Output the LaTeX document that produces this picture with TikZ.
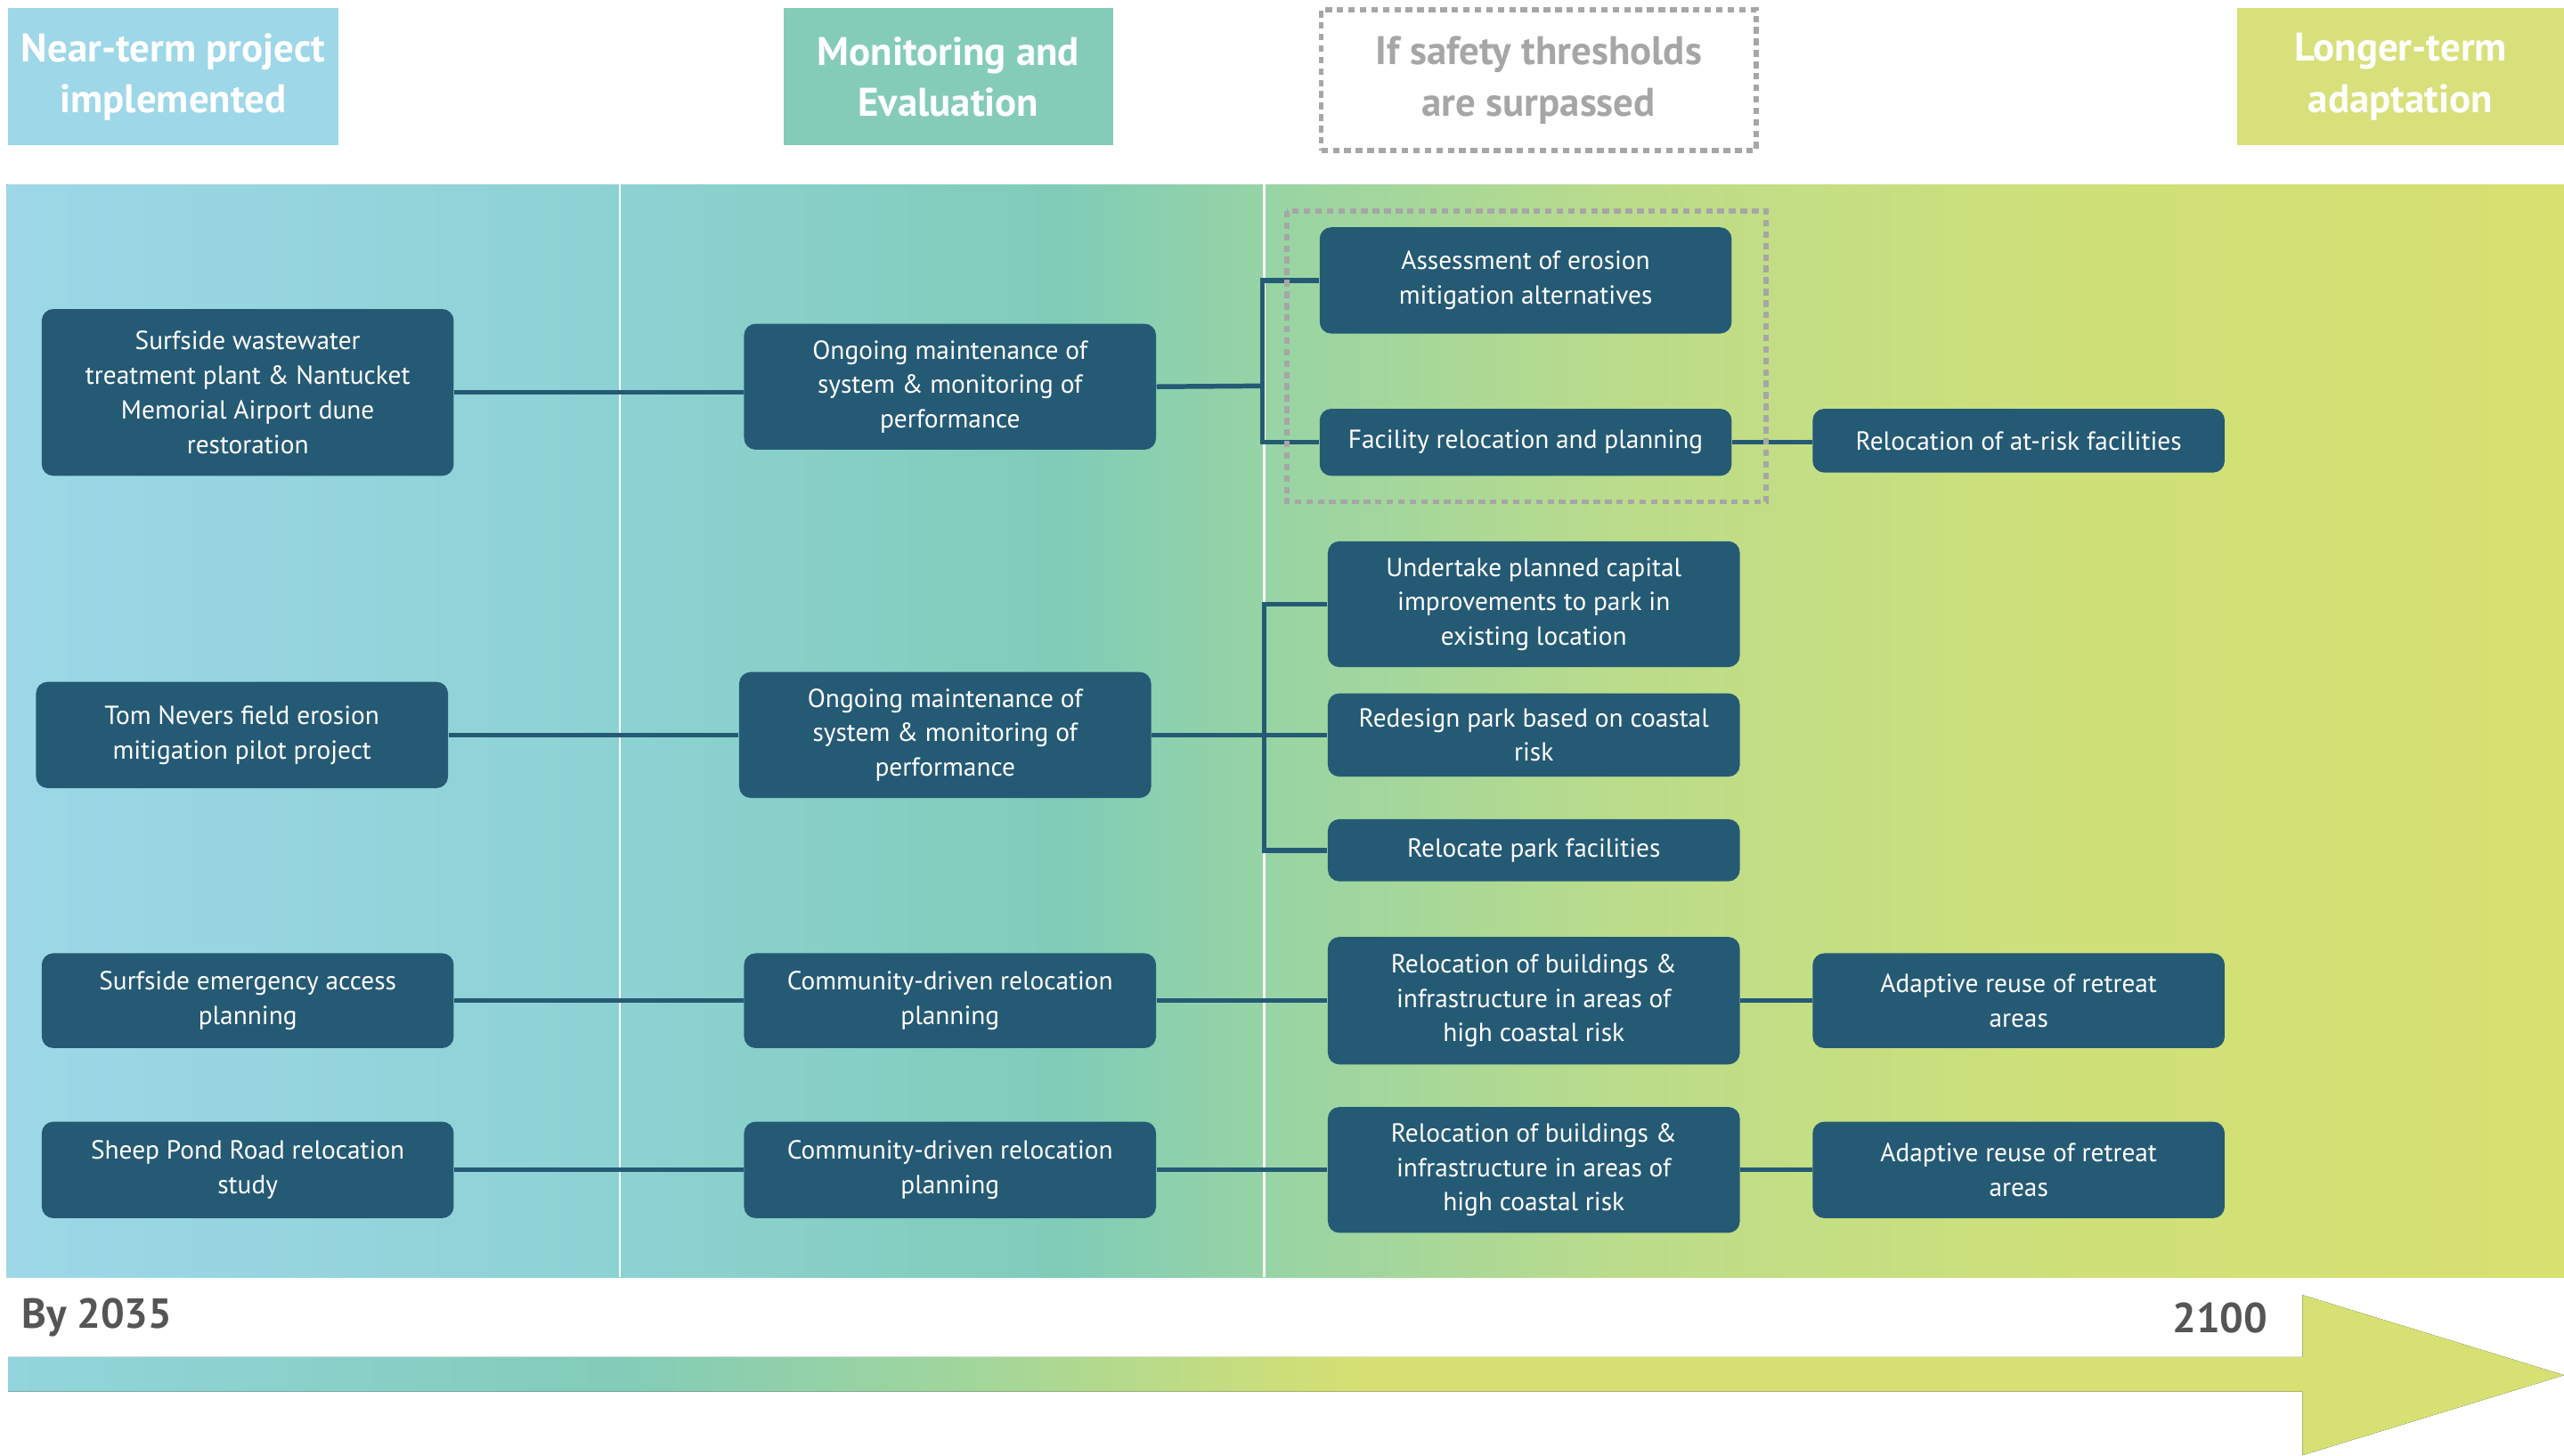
\documentclass[tikz,border=0pt]{standalone}
\usepackage{fontspec}
\setmainfont{PT Sans}
\usetikzlibrary{positioning}

\definecolor{boxblue}{HTML}{255A75}
\definecolor{nearblue}{HTML}{9DD7E8}
\definecolor{montgreen}{HTML}{84CCB8}
\definecolor{longyellow}{HTML}{D7E07A}
\definecolor{dashgray}{HTML}{A6A6A6}
\definecolor{yeargray}{HTML}{555555}

\pgfdeclarehorizontalshading{bandshade}{100bp}{%
  color(0bp)=(nearblue); color(25bp)=(nearblue);
  color(37bp)=(rgb,255:red,141;green,210;blue,211);
  color(45.6bp)=(rgb,255:red,128;green,204;blue,184);
  color(49.8bp)=(rgb,255:red,152;green,212;blue,164);
  color(56.8bp)=(rgb,255:red,188;green,220;blue,138);
  color(64.9bp)=(rgb,255:red,206;green,224;blue,122);
  color(75bp)=(rgb,255:red,216;green,224;blue,112);
  color(100bp)=(rgb,255:red,216;green,224;blue,112)}
\pgfdeclarehorizontalshading{arrowshade}{100bp}{%
  color(0bp)=(rgb,255:red,146;green,213;blue,220);
  color(25bp)=(rgb,255:red,146;green,213;blue,220);
  color(37bp)=(rgb,255:red,130;green,204;blue,184);
  color(44bp)=(rgb,255:red,162;green,214;blue,154);
  color(51.4bp)=(rgb,255:red,214;green,224;blue,114);
  color(75bp)=(rgb,255:red,215;green,224;blue,115);
  color(100bp)=(rgb,255:red,215;green,224;blue,115)}

\begin{document}
\begin{tikzpicture}[
  x=0.02cm, y=-0.02cm,
  font=\fontsize{9.1}{12}\selectfont,
  task/.style={fill=boxblue, rounded corners=4pt, text=white,
               align=center, minimum width=5.04cm, inner sep=2pt},
  phase/.style={text=white, align=center, minimum width=4.04cm,
                minimum height=1.68cm,
                font=\bfseries\fontsize{13.9}{17.8}\selectfont},
  threshold/.style={draw=dashgray, line width=1.7pt,
                    dash pattern=on 2.3pt off 1.7pt},
  link/.style={draw=boxblue, line width=1.7pt},
  divider/.style={draw=white, line width=0.8pt},
  year/.style={text=yeargray, font=\bfseries\fontsize{14.6}{16}\selectfont}
]
\useasboundingbox (0,0) rectangle (1568,890);

%% Phase headers
\node[phase, fill=nearblue]   (hnear) at (106,47)  {Near-term project\\implemented};
\node[phase, fill=montgreen]  (hmon)  at (580,47)  {Monitoring and\\Evaluation};
\node[phase, threshold, text=dashgray, minimum width=5.32cm,
      minimum height=1.72cm]  (hsafe) at (941,49)  {If safety thresholds\\are surpassed};
\node[phase, fill=longyellow, minimum width=4.0cm]
                              (hlong) at (1468,47) {Longer-term\\adaptation};

%% Background band and dividers
\fill[shading=bandshade] (4,113) rectangle (1568,781);
\draw[divider] (379,113) -- (379,781);
\draw[divider] (773,113) -- (773,781);

%% Row 1
\node[task, minimum height=2.04cm] (src1)   at (151.5,240) {Surfside wastewater\\treatment plant \& Nantucket\\Memorial Airport dune\\restoration};
\node[task, minimum height=1.54cm] (mon1)   at (581,236.5) {Ongoing maintenance of\\system \& monitoring of\\performance};
\node[task, minimum height=1.30cm] (assess) at (933,171.5) {Assessment of erosion\\mitigation alternatives};
\node[task, minimum height=0.82cm] (facil)  at (933,270.5) {Facility relocation and planning};
\node[task, minimum height=0.78cm] (atrisk) at (1234.5,269.5) {Relocation of at-risk facilities};

%% Row 2
\node[task, minimum height=1.30cm] (src2)     at (148,449.5) {Tom Nevers field erosion\\mitigation pilot project};
\node[task, minimum height=1.54cm] (mon2)     at (578,449.5) {Ongoing maintenance of\\system \& monitoring of\\performance};
\node[task, minimum height=1.54cm] (capital)  at (938,369.5) {Undertake planned capital\\improvements to park in\\existing location};
\node[task, minimum height=1.02cm] (redesign) at (938,449.5) {Redesign park based on coastal\\risk};
\node[task, minimum height=0.76cm] (relpark)  at (938,520)   {Relocate park facilities};

%% Row 3
\node[task, minimum height=1.16cm] (src3)   at (151.5,612) {Surfside emergency access\\planning};
\node[task, minimum height=1.16cm] (comm3)  at (581,612)   {Community-driven relocation\\planning};
\node[task, minimum height=1.56cm] (bldg3)  at (938,612)   {Relocation of buildings \&\\infrastructure in areas of\\high coastal risk};
\node[task, minimum height=1.16cm] (reuse3) at (1234.5,612) {Adaptive reuse of retreat\\areas};

%% Row 4
\node[task, minimum height=1.18cm] (src4)   at (151.5,715.5) {Sheep Pond Road relocation\\study};
\node[task, minimum height=1.18cm] (comm4)  at (581,715.5)   {Community-driven relocation\\planning};
\node[task, minimum height=1.54cm] (bldg4)  at (938,715.5)   {Relocation of buildings \&\\infrastructure in areas of\\high coastal risk};
\node[task, minimum height=1.18cm] (reuse4) at (1234.5,715.5) {Adaptive reuse of retreat\\areas};

%% Connectors
\coordinate (bus1) at (772,236);
\coordinate (bus2) at (773,449.5);
\draw[link] (src1.east) -- (src1.east -| mon1.west);
\draw[link] (mon1.east) -- (bus1);
\draw[link] (assess.west) -- (bus1 |- assess.west) -- (bus1 |- facil.west) -- (facil.west);
\draw[link] (facil.east) -- (facil.east -| atrisk.west);

\draw[link] (src2.east) -- (mon2.west);
\draw[link] (mon2.east) -- (redesign.west);
\draw[link] (capital.west) -- (bus2 |- capital.west) -- (bus2 |- relpark.west) -- (relpark.west);

\draw[link] (src3) -- (comm3) -- (bldg3) -- (reuse3);
\draw[link] (src4) -- (comm4) -- (bldg4) -- (reuse4);

%% Threshold frame
\draw[threshold] (787,129) rectangle (1080,307);

%% Timeline
\node[year, anchor=west] (ystart) at (7,806)    {By 2035};
\node[year, anchor=east] (yend)   at (1393,806) {2100};
\fill[shading=arrowshade] (5,830) -- (1408,830) -- (1408,792) -- (1568,841)
  -- (1408,890) -- (1408,851) -- (5,851) -- cycle;

\end{tikzpicture}
\end{document}
